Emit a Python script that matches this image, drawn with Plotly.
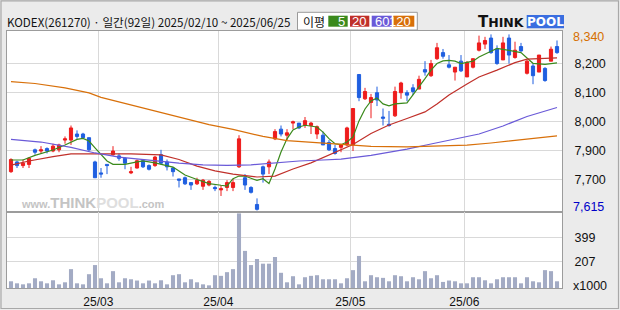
import plotly.graph_objects as go

# ---------------- data ----------------
idx = list(range(92))  # trading day index, 2025/02/10 .. 2025/06/25

opens = [7775, 7815, 7800, 7805, 7865, 7860, 7870, 7860, 7865, 7905,
         7905, 7930, 7930, 7915, 7815, 7770, 7805, 7845, 7840, 7830,
         7770, 7790, 7820, 7800, 7800, 7845, 7815, 7790, 7745, 7750,
         7730, 7725, 7715, 7720, 7710, 7700, 7710, 7710, 7795, 7750,
         7710, 7640, 7795, 7795, 7910, 7950, 7925, 7975, 7975, 7965,
         7965, 7930, 7925, 7895, 7870, 7875, 7885, 7885, 8175, 8075,
         8060, 8100, 8000, 7970, 8005, 8100, 8100, 8120, 8115, 8195,
         8170, 8240, 8265, 8215, 8185, 8230, 8165, 8205, 8275, 8300,
         8325, 8280, 8235, 8325, 8245, 8290, 8180, 8210, 8185, 8200,
         8230, 8290]
highs = [7830, 7820, 7825, 7835, 7870, 7880, 7875, 7890, 7890, 7920,
         7965, 7945, 7935, 7915, 7820, 7790, 7805, 7880, 7850, 7835,
         7795, 7825, 7825, 7805, 7840, 7865, 7825, 7795, 7745, 7755,
         7730, 7750, 7745, 7740, 7718, 7720, 7740, 7745, 7925, 7765,
         7715, 7665, 7800, 7825, 7950, 7965, 7950, 7985, 7975, 8000,
         7980, 7965, 7940, 7905, 7885, 7890, 7960, 8035, 8175, 8120,
         8095, 8125, 8035, 8025, 8125, 8145, 8110, 8135, 8170, 8230,
         8235, 8305, 8280, 8255, 8205, 8255, 8230, 8240, 8335, 8330,
         8340, 8295, 8330, 8340, 8310, 8305, 8235, 8220, 8255, 8205,
         8290, 8315]
lows = [7770, 7790, 7790, 7790, 7845, 7850, 7850, 7855, 7855, 7890,
        7885, 7910, 7910, 7860, 7750, 7750, 7765, 7840, 7820, 7785,
        7765, 7788, 7790, 7780, 7795, 7805, 7780, 7755, 7710, 7720,
        7700, 7720, 7700, 7715, 7695, 7675, 7695, 7695, 7790, 7700,
        7685, 7615, 7730, 7765, 7905, 7920, 7905, 7950, 7950, 7955,
        7930, 7910, 7885, 7860, 7845, 7855, 7880, 7860, 8065, 8070,
        7995, 8045, 7965, 7960, 8000, 8075, 8065, 8090, 8115, 8170,
        8165, 8235, 8240, 8200, 8150, 8185, 8165, 8200, 8270, 8280,
        8260, 8215, 8235, 8220, 8240, 8268, 8175, 8135, 8185, 8145,
        8230, 8260]
closes = [7825, 7800, 7810, 7830, 7855, 7865, 7860, 7880, 7885, 7910,
          7955, 7920, 7915, 7865, 7750, 7765, 7800, 7860, 7830, 7810,
          7775, 7820, 7795, 7785, 7835, 7810, 7795, 7775, 7740, 7725,
          7720, 7740, 7740, 7735, 7705, 7705, 7730, 7730, 7910, 7720,
          7690, 7620, 7765, 7815, 7940, 7930, 7935, 7980, 7955, 7985,
          7975, 7960, 7885, 7865, 7850, 7885, 7955, 8035, 8080, 8105,
          8080, 8070, 7995, 7965, 8105, 8140, 8090, 8105, 8155, 8185,
          8220, 8285, 8250, 8205, 8205, 8190, 8225, 8240, 8305, 8315,
          8265, 8220, 8305, 8255, 8275, 8272, 8230, 8170, 8255, 8150,
          8279, 8265]
volumes = [53, 37, 29, 37, 77, 53, 37, 61, 29, 45,
           149, 37, 29, 109, 181, 77, 37, 133, 45, 77,
           69, 59, 37, 59, 37, 61, 29, 101, 109, 45,
           69, 45, 29, 21, 101, 96, 125, 149, 589, 293,
           181, 229, 192, 192, 245, 120, 45, 93, 29, 85,
           96, 101, 69, 69, 69, 37, 77, 141, 253, 53,
           101, 85, 80, 53, 101, 93, 53, 85, 69, 133,
           77, 101, 48, 59, 53, 37, 37, 85, 85, 61,
           37, 69, 85, 85, 85, 37, 85, 53, 45, 141,
           133, 53]

ma5_idx = [0, 2, 4, 7, 9, 11, 12, 13, 14, 15, 16, 17, 19, 21, 22, 24, 26, 27, 28, 29,
           31, 33, 35, 36, 37, 38, 39, 41, 42, 43, 44, 45, 46, 47, 48, 49, 51, 52, 53, 54,
           55, 56, 57, 58, 59, 60, 61, 62, 63, 64, 66, 67, 68, 69, 70, 71, 72, 73, 74, 75,
           77, 78, 80, 81, 83, 85, 86, 87, 89, 91]
ma5_val = [7823, 7823, 7842, 7864, 7885, 7908, 7912, 7901, 7873, 7844, 7819, 7805, 7805, 7815, 7819, 7811, 7800, 7794, 7778, 7761,
           7743, 7726, 7719, 7716, 7746, 7757, 7757, 7739, 7746, 7726, 7786, 7856, 7910, 7947, 7959, 7966, 7959, 7938, 7911, 7890,
           7886, 7897, 7918, 7984, 8033, 8066, 8078, 8054, 8046, 8054, 8058, 8090, 8124, 8158, 8193, 8220, 8231, 8233, 8230, 8220,
           8230, 8247, 8271, 8282, 8274, 8265, 8243, 8221, 8217, 8223]
ma20_idx = [0, 3, 7, 10, 15, 20, 25, 28, 31, 34, 37, 41, 44, 47, 50, 53, 55, 57, 60, 63,
            66, 69, 71, 73, 76, 78, 81, 84, 86, 88, 91]
ma20_val = [7802, 7819, 7837, 7848, 7848, 7848, 7844, 7825, 7798, 7778, 7765, 7753, 7757, 7786, 7811, 7844, 7864, 7887, 7932, 7967,
            7994, 8021, 8054, 8091, 8136, 8165, 8193, 8224, 8238, 8241, 8243]
ma60_idx = [0, 5, 10, 14, 18, 23, 28, 32, 36, 40, 44, 48, 52, 55, 60, 66, 70, 73, 78, 82, 86, 91]
ma60_val = [7908, 7897, 7875, 7852, 7835, 7822, 7810, 7803, 7801, 7803, 7811, 7819, 7823, 7827, 7842, 7868, 7889, 7905, 7930, 7963,
            8002, 8039]
ma120_idx = [0, 4, 9, 13, 15, 18, 23, 29, 33, 37, 42, 46, 50, 54, 57, 60, 66, 72, 76, 80, 84, 88, 91]
ma120_val = [8146, 8138, 8120, 8099, 8081, 8062, 8033, 7994, 7969, 7949, 7920, 7903, 7896, 7891, 7883, 7879, 7877, 7880, 7884, 7893,
             7903, 7916, 7922]

month_start_idx = [15, 35, 57, 76]
month_labels = ["25/03", "25/04", "25/05", "25/06"]
price_grid_vals = [8221, 8102, 7983, 7863, 7744]
price_grid_text = ["8,200", "8,100", "8,000", "7,900", "7,700"]
vol_grid_vals = [399, 207]
vol_grid_text = ["399", "207"]
ma_periods = ["5", "20", "60", "120"]
title_text = "KODEX(261270) · 일간(92일) 2025/02/10 ~ 2025/06/25"

# ---------------- styles ----------------
RED = "#ee1c1c"
BLUE = "#1f5fe0"
VOLC = "#a3abc4"
MA_COLORS = ["#3a8a1c", "#c0302a", "#6a5ad8", "#d8700a"]
GRID = "#d9d9d9"
BORDER = "#9c9c9c"
FONT = "Liberation Sans"
KFONT = "Noto Sans CJK KR"
LBL = 12.5
STANDOFF = 9

W, H = 620, 310
L, R, T, B = 7, 58, 31, 22
PW, PH = W - L - R, H - T - B


def px(x):
    return (x - L) / PW


def py(y):
    return (H - B - y) / PH


split = py(212)

fig = go.Figure()
fig.add_trace(go.Candlestick(
    x=idx, open=opens, high=highs, low=lows, close=closes,
    increasing=dict(line=dict(color=RED, width=1), fillcolor=RED),
    decreasing=dict(line=dict(color=BLUE, width=1), fillcolor=BLUE),
    whiskerwidth=0, hoverinfo="skip", xaxis="x", yaxis="y"))

for (mi, mv), col in zip([(ma5_idx, ma5_val), (ma20_idx, ma20_val),
                          (ma60_idx, ma60_val), (ma120_idx, ma120_val)], MA_COLORS):
    fig.add_trace(go.Scatter(x=mi, y=mv, mode="lines", line=dict(color=col, width=1.2),
                             hoverinfo="skip", xaxis="x", yaxis="y"))

fig.add_trace(go.Bar(x=idx, y=volumes, width=0.68, marker=dict(color=VOLC, line=dict(width=0)),
                     hoverinfo="skip", xaxis="x2", yaxis="y2"))

tick_pos = [i - 0.45 for i in month_start_idx]
xr = [(L - 11) / 6, (W - R - 11) / 6]

axis_common = dict(showline=True, mirror=True, linecolor=BORDER, linewidth=1,
                   zeroline=False, ticks="", fixedrange=True, automargin=False)
tfont = dict(size=LBL, family=FONT, color="#111111")

fig.update_layout(
    template="none",
    width=W, height=H, margin=dict(l=L, r=R, t=T, b=B, pad=0, autoexpand=False),
    paper_bgcolor="#ebebeb", plot_bgcolor="white", showlegend=False,
    boxgap=0.25,
    font=dict(family=FONT, size=12, color="#111111"),
    xaxis=dict(domain=[0, 1], range=xr, anchor="y", tickvals=tick_pos, showticklabels=False,
               showgrid=True, gridcolor=GRID, gridwidth=1.5,
               rangeslider=dict(visible=False), **axis_common),
    xaxis2=dict(domain=[0, 1], range=xr, anchor="y2", matches="x", tickvals=tick_pos,
                ticktext=month_labels, showgrid=True, gridcolor=GRID, gridwidth=1.5,
                ticklabelstandoff=3, tickfont=dict(size=12, family=FONT, color="#111111"),
                **axis_common),
    yaxis=dict(domain=[split, 1], range=[7609, 8354], anchor="x", side="right",
               tickvals=price_grid_vals, ticktext=price_grid_text, showgrid=True,
               gridcolor=GRID, gridwidth=1, ticklabelstandoff=STANDOFF,
               tickfont=tfont, **axis_common),
    yaxis2=dict(domain=[0, split], range=[0, 600], anchor="x2", side="right",
                tickvals=vol_grid_vals, ticktext=vol_grid_text, showgrid=True,
                gridcolor=GRID, gridwidth=1, ticklabelstandoff=STANDOFF,
                tickfont=tfont, **axis_common),
)

shapes = []
annotations = []

# outer frame
shapes.append(dict(type="rect", xref="paper", yref="paper", x0=px(1), x1=px(618.5),
                   y0=py(308.5), y1=py(0.8), line=dict(color="#a8a8a8", width=1.2),
                   fillcolor="rgba(0,0,0,0)", layer="below"))

# header title
annotations.append(dict(xref="paper", yref="paper", x=px(5), y=py(22), xanchor="left",
                        yanchor="middle", showarrow=False, text=title_text,
                        font=dict(family=KFONT, size=11.6, color="#111111")))

# MA legend box
shapes.append(dict(type="rect", xref="paper", yref="paper", x0=px(297.5), x1=px(417.3),
                   y0=py(30), y1=py(12.3), line=dict(color="#9a9a9a", width=1), fillcolor="white"))
annotations.append(dict(xref="paper", yref="paper", x=px(313.5), y=py(21.3), xanchor="center",
                        yanchor="middle", showarrow=False,
                        text="이평", font=dict(family=KFONT, size=12, color="#111111")))
box_edges = [(328.3, 347.7), (350, 369.3), (371.7, 391.7), (393.3, 414.3)]
for (x0, x1), col, lab in zip(box_edges, MA_COLORS, ma_periods):
    shapes.append(dict(type="rect", xref="paper", yref="paper", x0=px(x0), x1=px(x1),
                       y0=py(26.7), y1=py(15.7), line=dict(width=0), fillcolor=col))
    annotations.append(dict(xref="paper", yref="paper", x=px(x1 - 1), y=py(21.3), xanchor="right",
                            yanchor="middle", showarrow=False, text=lab,
                            font=dict(family=FONT, size=13, color="white")))

# ThinkPool logo
annotations.append(dict(xref="paper", yref="paper", x=px(526.5), y=py(22), xanchor="right",
                        yanchor="middle", showarrow=False,
                        text="<b>T<span style='font-size:12.5px'>HINK</span></b>",
                        font=dict(family="DejaVu Sans", size=15, color="#111111")))
shapes.append(dict(type="rect", xref="paper", yref="paper", x0=px(526.7), x1=px(564),
                   y0=py(28.3), y1=py(15), line=dict(width=0), fillcolor="#3a6ee0"))
annotations.append(dict(xref="paper", yref="paper", x=px(545.3), y=py(21.8), xanchor="center",
                        yanchor="middle", showarrow=False, text="<b>POOL</b>",
                        font=dict(family="DejaVu Sans", size=12, color="white")))

# watermark
annotations.append(dict(xref="paper", yref="paper", x=px(92.7), y=py(202.5), xanchor="center",
                        yanchor="middle", showarrow=False,
                        text="<b><span style='font-size:11px'>www.</span>THINK"
                             "<span style='color:#dedede'>POOL</span>"
                             "<span style='font-size:11px'>.com</span></b>",
                        font=dict(family=FONT, size=15, color="#c4c4c4")))

# max / min price labels
annotations.append(dict(xref="paper", yref="y", x=1, y=max(highs), xanchor="left", yanchor="middle",
                        xshift=STANDOFF, yshift=-2.5, showarrow=False, text=f"{max(highs):,}",
                        font=dict(family=FONT, size=LBL, color="#d66f00")))
annotations.append(dict(xref="paper", yref="y", x=1, y=min(lows), xanchor="left", yanchor="middle",
                        xshift=STANDOFF, yshift=4, showarrow=False, text=f"{min(lows):,}",
                        font=dict(family=FONT, size=LBL, color="#0000c8")))
# volume unit
annotations.append(dict(xref="paper", yref="paper", x=1, y=py(286.3), xanchor="left",
                        yanchor="middle", xshift=STANDOFF, showarrow=False, text="x1000",
                        font=dict(family=FONT, size=LBL, color="#111111")))

fig.update_layout(shapes=shapes, annotations=annotations)
fig.write_html("out.html", config={"displayModeBar": False, "staticPlot": True})
